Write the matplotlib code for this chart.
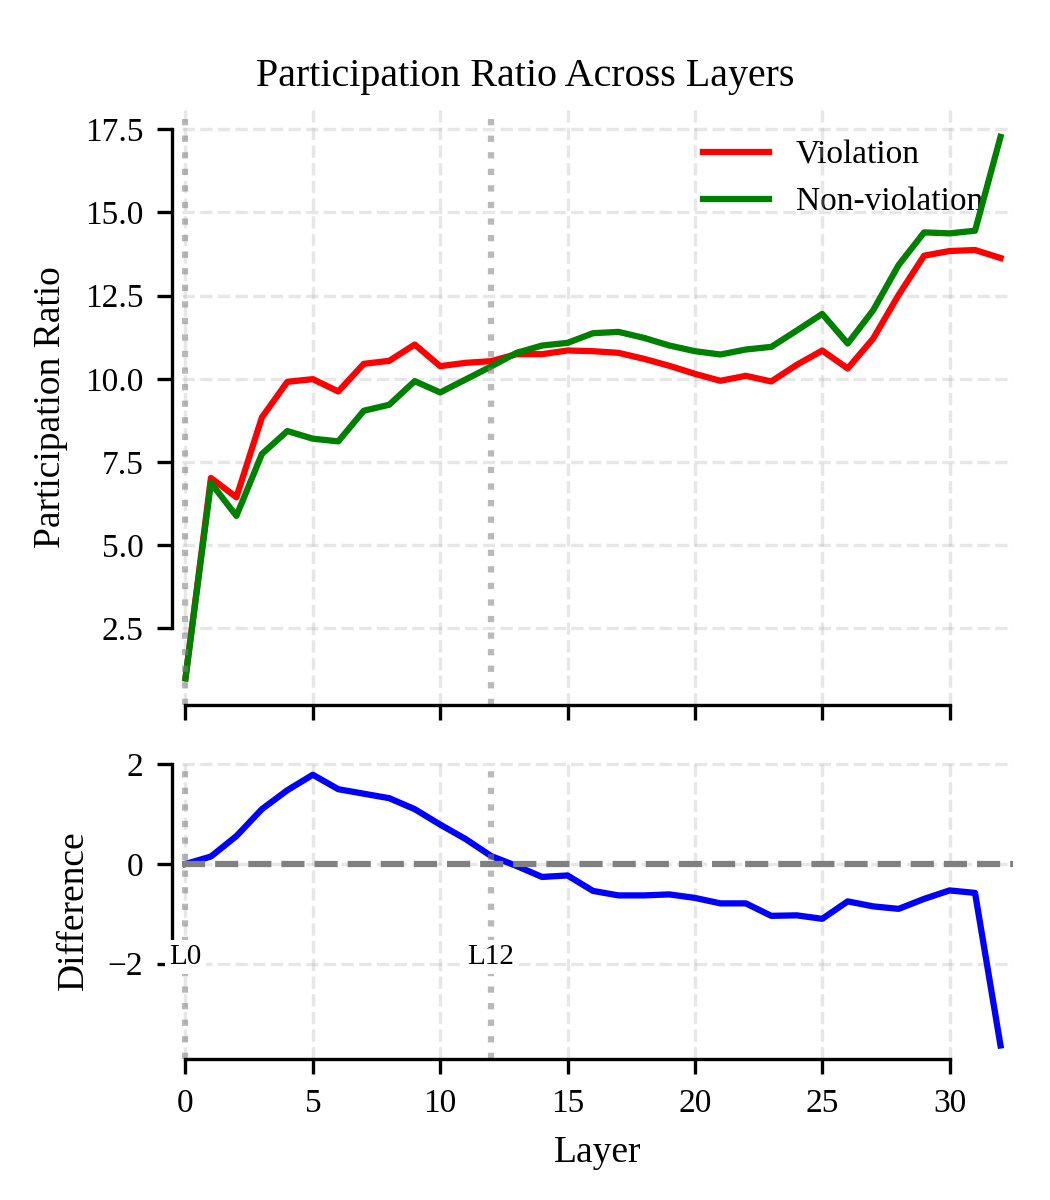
import matplotlib
matplotlib.use("Agg")
import matplotlib.pyplot as plt
import numpy as np

plt.rcParams['font.family'] = ['Liberation Serif', 'DejaVu Serif']
plt.rcParams['mathtext.fontset'] = 'stix'

layers = np.arange(33)

violation = [1.0, 7.02, 6.44, 8.84, 9.91, 9.99, 9.62, 10.45, 10.54, 11.03,
             10.38, 10.48, 10.53, 10.74, 10.74, 10.85, 10.83, 10.78, 10.60, 10.39,
             10.15, 9.94, 10.09, 9.92, 10.42, 10.85, 10.31, 11.21, 12.52, 13.70,
             13.84, 13.87, 13.63]
non_violation = [1.0, 6.87, 5.88, 7.74, 8.43, 8.20, 8.12, 9.04, 9.22, 9.93,
                 9.59, 9.98, 10.37, 10.78, 11.0, 11.08, 11.37, 11.41, 11.23, 11.0,
                 10.83, 10.73, 10.88, 10.96, 11.45, 11.95, 11.06, 12.06, 13.42, 14.40,
                 14.37, 14.45, 17.27]
marked_layers = [0, 12]

violation = np.array(violation)
non_violation = np.array(non_violation)
diff = violation - non_violation

fig, (ax1, ax2) = plt.subplots(2, 1, figsize=(3.5, 4), dpi=300, sharex=True,
                               gridspec_kw={'height_ratios': [2, 1]})
fig.subplots_adjust(left=0.173, right=0.965, top=0.9085, bottom=0.1175, hspace=0.125)

ax1.plot(layers, violation, color='red', lw=1.5, label='Violation')
ax1.plot(layers, non_violation, color='green', lw=1.5, label='Non-violation')
ax1.set_ylabel('Participation Ratio', fontsize=9)
ax1.set_yticks([2.5, 5.0, 7.5, 10.0, 12.5, 15.0, 17.5])
leg = ax1.legend(fontsize=8, frameon=False, loc='upper right')
leg.set_zorder(1)

ax2.plot(layers, diff, color='blue', lw=1.5)
ax2.axhline(0, color='gray', ls='--', lw=1.5)
ax2.set_ylabel('Difference', fontsize=9)
ax2.set_xlabel('Layer', fontsize=9)
ax2.set_yticks([-2, 0, 2])

for ax in (ax1, ax2):
    for l in marked_layers:
        ax.axvline(l, color='gray', ls=':', lw=1.5, alpha=0.55)
    ax.grid(True, ls='--', alpha=0.3, lw=0.8)
    ax.tick_params(labelsize=8)
    ax.spines['top'].set_visible(False)
    ax.spines['right'].set_visible(False)
    ax.spines['left'].set_position(('outward', 2.2))

ax1.set_xlim(-0.15, 32.5)
ax2.set_xticks([0, 5, 10, 15, 20, 25, 30])
ax1.spines['left'].set_bounds(2.5, 17.5)
ax1.spines['bottom'].set_bounds(0, 30)
ax2.spines['left'].set_bounds(-2, 2)
ax2.spines['bottom'].set_bounds(0, 30)

for l in marked_layers:
    ax2.text(l, -2, f'L{l}', ha='center', va='baseline', fontsize=7,
             bbox=dict(facecolor='white', edgecolor='none', pad=1))

fig.suptitle('Participation Ratio Across Layers', fontsize=9.6, y=0.952)

plt.savefig('out.png', dpi=300)
